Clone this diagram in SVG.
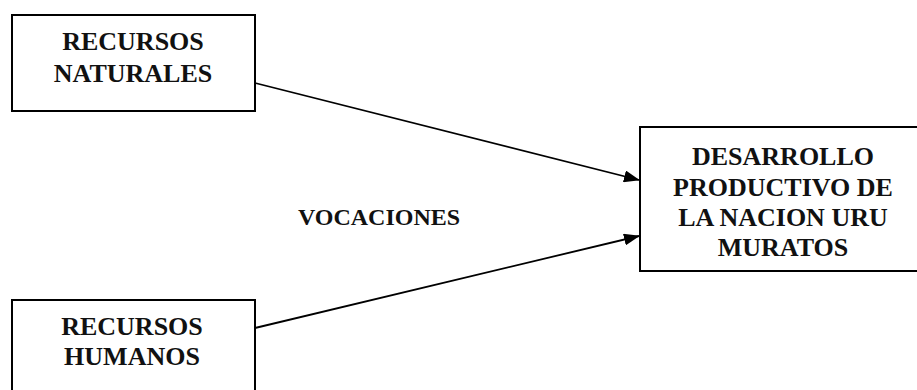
<svg xmlns="http://www.w3.org/2000/svg" width="917" height="390" viewBox="0 0 917 390">
<style>
.box{fill:#fff;stroke:#000;stroke-width:2}
.t{font-family:"Liberation Serif","Times New Roman",serif;font-weight:bold;font-size:26px;fill:#111;text-anchor:middle}
.c{stroke:#000;stroke-width:1.8;fill:none;marker-end:url(#ah)}
</style>
<defs>
<marker id="ah" markerWidth="16" markerHeight="12" refX="15" refY="6" orient="auto" markerUnits="userSpaceOnUse">
<path d="M0,0 L16,6 L0,12 Z" fill="#000"/>
</marker>
</defs>
<rect width="917" height="390" fill="#fff"/>
<g id="connectors">
<line class="c" x1="255" y1="83" x2="639" y2="180"/>
<line class="c" x1="255" y1="328" x2="639" y2="236"/>
</g>
<g id="recursos-naturales">
<rect class="box" x="12" y="15" width="243" height="96"/>
<text class="t" x="133" y="50">RECURSOS</text>
<text class="t" x="133" y="82">NATURALES</text>
</g>
<g id="recursos-humanos">
<rect class="box" x="12" y="300" width="243" height="96"/>
<text class="t" x="132" y="335">RECURSOS</text>
<text class="t" x="132" y="365">HUMANOS</text>
</g>
<g id="desarrollo">
<rect class="box" x="640" y="127" width="285" height="144"/>
<text class="t" x="783" y="165">DESARROLLO</text>
<text class="t" x="783" y="196">PRODUCTIVO DE</text>
<text class="t" x="783" y="226">LA NACION URU</text>
<text class="t" x="783" y="256">MURATOS</text>
</g>
<g id="vocaciones">
<text class="t" x="379" y="225" style="font-size:24px">VOCACIONES</text>
</g>
</svg>
